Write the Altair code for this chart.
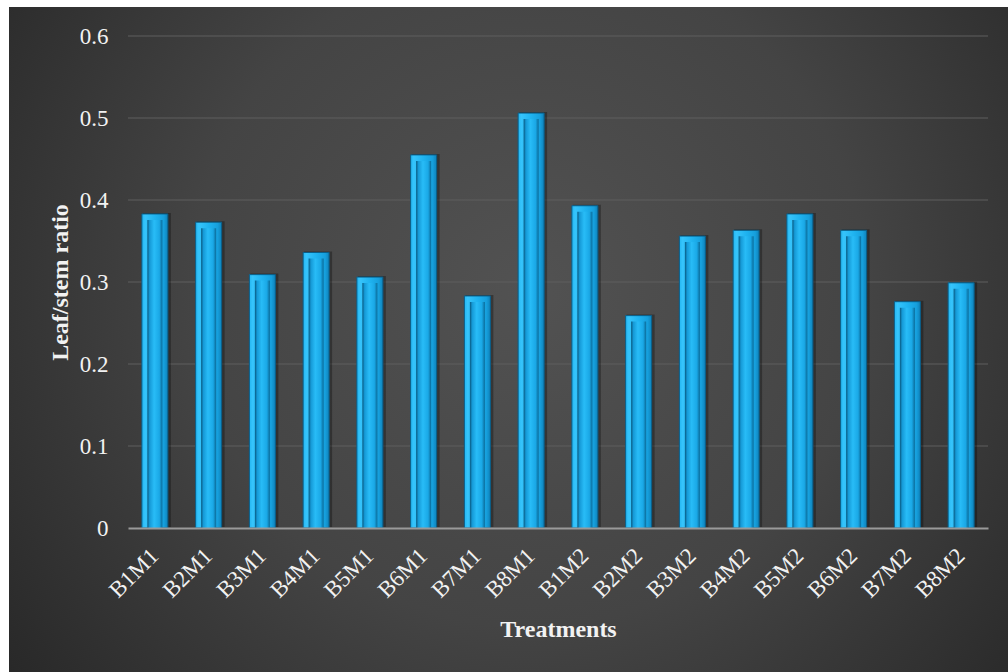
import altair as alt
import pandas as pd

# Leaf/stem ratio for each treatment combination
treatments = [
    "B1M1", "B2M1", "B3M1", "B4M1", "B5M1", "B6M1", "B7M1", "B8M1",
    "B1M2", "B2M2", "B3M2", "B4M2", "B5M2", "B6M2", "B7M2", "B8M2",
]
leaf_stem = [
    0.383, 0.373, 0.309, 0.336, 0.306, 0.455, 0.283, 0.506,
    0.393, 0.259, 0.356, 0.363, 0.383, 0.363, 0.276, 0.299,
]
y_ticks = [0, 0.1, 0.2, 0.3, 0.4, 0.5, 0.6]

df = pd.DataFrame({"Treatment": treatments, "Ratio": leaf_stem})
grid_df = pd.DataFrame({"Ratio": y_ticks[1:]})

W, H = 860, 492
PAD_L, PAD_T, PAD_R, PAD_B = 128, 36, 20, 144
FONT = "Liberation Serif"

x_scale = alt.Scale(paddingInner=0.516, paddingOuter=0.258)
y_scale = alt.Scale(domain=[0, 0.6], nice=False, zero=True)

x_axis = alt.Axis(
    title="Treatments",
    labelAngle=-45,
    labelAlign="right",
    labelBaseline="middle",
    labelPadding=24,
    ticks=False,
    tickSize=0,
    grid=False,
    domainColor="#9a9a9a",
    domainWidth=2,
    titlePadding=15,
    zindex=1,
)
y_axis = alt.Axis(
    title="Leaf/stem ratio",
    values=y_ticks,
    format=".1~f",
    grid=False,
    domain=False,
    ticks=False,
    tickSize=0,
    labelPadding=20,
    titlePadding=7,
    zindex=1,
)

x_enc = alt.X("Treatment:N", sort=treatments, scale=x_scale, axis=x_axis)
y_enc = alt.Y("Ratio:Q", scale=y_scale, axis=y_axis)

# dark radial backdrop behind the whole figure
backdrop = alt.Chart(pd.DataFrame({"k": [0]})).mark_rect(
    fill=alt.RadialGradient(
        gradient="radial",
        x1=0.52, y1=0.45, r1=0.0,
        x2=0.52, y2=0.45, r2=0.75,
        stops=[
            alt.GradientStop(offset=0.0, color="#525252"),
            alt.GradientStop(offset=0.45, color="#444444"),
            alt.GradientStop(offset=1.0, color="#1f1f1f"),
        ],
    )
).encode(
    x=alt.value(9 - PAD_L),
    x2=alt.value(1008 - PAD_L),
    y=alt.value(7 - PAD_T),
    y2=alt.value(672 - PAD_T),
)

# horizontal gridlines, kept behind the bars
grid = alt.Chart(grid_df).mark_rule(color="#5e5e5e", strokeWidth=1).encode(
    y=y_enc
)

# soft drop shadow
shadow = alt.Chart(df).mark_bar(
    size=28, xOffset=2, yOffset=-1, color="#000000", opacity=0.3
).encode(x=x_enc, y=y_enc)

# outer bevelled frame of each bar
outer = alt.Chart(df).mark_bar(
    size=26,
    fill=alt.LinearGradient(
        gradient="linear", x1=0, y1=0, x2=1, y2=0,
        stops=[
            alt.GradientStop(offset=0.0, color="#22b6f2"),
            alt.GradientStop(offset=0.12, color="#36c4fb"),
            alt.GradientStop(offset=0.5, color="#1fb3f0"),
            alt.GradientStop(offset=0.85, color="#169fdc"),
            alt.GradientStop(offset=1.0, color="#0e82ba"),
        ],
    ),
    stroke="#0a5f8a",
    strokeWidth=1,
).encode(x=x_enc, y=y_enc)

# recessed inner channel
inner = alt.Chart(df).mark_bar(
    size=15,
    yOffset=6,
    fill=alt.LinearGradient(
        gradient="linear", x1=0, y1=0, x2=1, y2=0,
        stops=[
            alt.GradientStop(offset=0.0, color="#08587f"),
            alt.GradientStop(offset=0.15, color="#1599d6"),
            alt.GradientStop(offset=0.45, color="#28bcf7"),
            alt.GradientStop(offset=0.8, color="#1aa8e6"),
            alt.GradientStop(offset=1.0, color="#0a6a98"),
        ],
    ),
).encode(x=x_enc, y=y_enc, y2=alt.value(H - 6))

chart = (
    alt.layer(backdrop, grid, shadow, outer, inner)
    .properties(
        width=W,
        height=H,
        autosize=alt.AutoSizeParams(type="none"),
        padding={"left": PAD_L, "top": PAD_T, "right": PAD_R, "bottom": PAD_B},
        background="white",
    )
    .configure_view(stroke=None)
    .configure_axis(
        labelFont=FONT,
        labelFontSize=23,
        labelColor="#f2f2f2",
        titleFont=FONT,
        titleFontSize=24,
        titleFontWeight="bold",
        titleColor="#f2f2f2",
    )
)

chart.save("out.html", embed_options={"renderer": "svg", "actions": False})
